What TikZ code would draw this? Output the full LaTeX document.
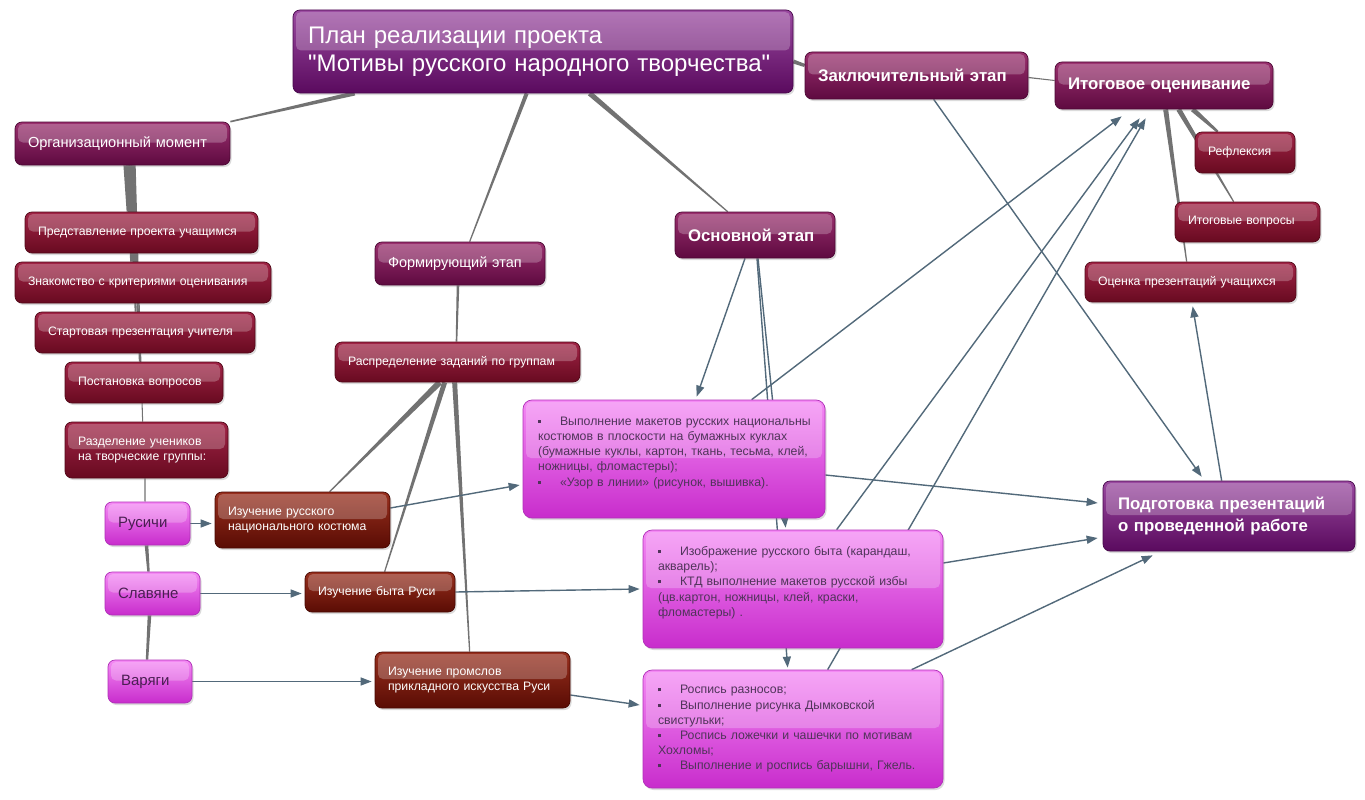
\documentclass[tikz,border=0pt]{standalone}
\usepackage{fontspec}
\setmainfont{Liberation Sans}
\newfontfamily\qfont{Liberation Sans}
\usetikzlibrary{shadows,arrows.meta,calc,backgrounds}
\definecolor{vT}{HTML}{9A4AA0}
\definecolor{vB}{HTML}{5A0A5E}
\definecolor{vD}{HTML}{48084C}
\definecolor{pT}{HTML}{9A306E}
\definecolor{pB}{HTML}{5E0A40}
\definecolor{pD}{HTML}{4C0834}
\definecolor{cT}{HTML}{A02446}
\definecolor{cB}{HTML}{680A20}
\definecolor{cD}{HTML}{520818}
\definecolor{bT}{HTML}{98301E}
\definecolor{bB}{HTML}{5A0C04}
\definecolor{bD}{HTML}{480802}
\definecolor{mT}{HTML}{F48AF4}
\definecolor{mB}{HTML}{C82CCC}
\definecolor{mD}{HTML}{B030B8}
\definecolor{mText}{HTML}{4A1E52}
\definecolor{boxText}{HTML}{50345A}
\definecolor{tapergray}{HTML}{727272}
\definecolor{arrowc}{HTML}{52697A}
\newcommand\fT{\fontsize{24}{28}\selectfont}
\newcommand\fB{\fontsize{16.8}{22}\selectfont\bfseries}
\newcommand\fM{\fontsize{14.6}{17}\selectfont}
\newcommand\fR{\fontsize{15}{17}\selectfont}
\newcommand\fF{\fontsize{14.5}{16}\selectfont}
\newcommand\fS{\fontsize{12.25}{15.5}\selectfont}
\newcommand\fX{\fontsize{12.3}{15.2}\selectfont}
\newcommand\bul{\makebox[22pt][l]{\rule[2.5pt]{3pt}{3pt}}}
\newcommand\sq{{\qfont"}}
\newcommand\taper[4]{\fill[tapergray] ($#1!#3!90:#2$) -- ($#1!#3!-90:#2$) -- ($#2!#4!90:#1$) -- ($#2!#4!-90:#1$) -- cycle;}
\begin{document}
\begin{tikzpicture}[x=1pt,y=-1pt,
 bx/.style={rounded corners=7pt, line width=0.7pt, inner xsep=13pt, inner ysep=0pt, align=left,
   drop shadow={shadow xshift=1.5pt,shadow yshift=-2pt,opacity=0.28},
   path picture={\fill[white,fill opacity=0.24,rounded corners=5pt] ([xshift=3pt,yshift=-2pt]path picture bounding box.north west) rectangle ([xshift=-3pt,yshift=1pt]path picture bounding box.east);}},
 plumv/.style={bx, top color=vT, bottom color=vB, draw=vD, text=white},
 plumr/.style={bx, top color=pT, bottom color=pB, draw=pD, text=white},
 crim/.style={bx, top color=cT, bottom color=cB, draw=cD, text=white, font=\fS},
 brwn/.style={bx, top color=bT, bottom color=bB, draw=bD, text=white, font=\fS},
 mag/.style={bx, top color=mT, bottom color=mB, draw=mD, text=mText},
 bigmag/.style={mag, rounded corners=9pt, text=boxText, font=\fX, inner xsep=15pt, minimum width=300pt, minimum height=118pt, text width=270pt},
 arr/.style={draw=arrowc, line width=1.4pt, -{Triangle[length=11pt,width=8pt]}},
]
\useasboundingbox (0,0) rectangle (1365,800);

% ---- nodes ----
\node[plumv, font=\fT, inner xsep=15pt, minimum width=500pt, minimum height=83pt, text width=470pt] (top) at (543,51.5) {\mbox{План реализации проекта}\\\mbox{\sq Мотивы русского народного творчества\sq}};
\node[plumr, font=\fB, minimum width=223pt, minimum height=47pt, text width=197pt] (zakl) at (916.5,75.5) {\mbox{Заключительный этап}};
\node[plumr, font=\fB, minimum width=218pt, minimum height=47pt, text width=192pt] (itog) at (1164,85.5) {\mbox{Итоговое оценивание}};
\node[plumr, font=\fB, minimum width=160pt, minimum height=46pt, text width=134pt] (osn) at (755,235) {\mbox{Основной этап}};
\node[plumr, font=\fM, minimum width=215pt, minimum height=43pt, text width=189pt] (org) at (122.5,143.5) {\mbox{Организационный момент}};
\node[plumr, font=\fF, minimum width=170pt, minimum height=43pt, text width=144pt] (form) at (460,263.5) {\mbox{Формирующий этап}};
\node[plumv, font=\fB, inner xsep=15pt, minimum width=252pt, minimum height=70pt, text width=222pt] (podg) at (1229,516) {\mbox{Подготовка презентаций}\\\mbox{о проведенной работе}};

\node[crim, minimum width=233pt, minimum height=41pt, text width=207pt] (pred) at (141.5,232.5) {\mbox{Представление проекта учащимся}};
\node[crim, minimum width=256pt, minimum height=41pt, text width=230pt] (znak) at (143,282.5) {\mbox{Знакомство с критериями оценивания}};
\node[crim, minimum width=220pt, minimum height=41pt, text width=194pt] (start) at (145,332.5) {\mbox{Стартовая презентация учителя}};
\node[crim, minimum width=158pt, minimum height=41pt, text width=132pt] (post) at (144,382.5) {\mbox{Постановка вопросов}};
\node[crim, minimum width=163pt, minimum height=56pt, text width=137pt] (razd) at (146.5,450) {\mbox{Разделение учеников}\\\mbox{на творческие группы:}};
\node[crim, minimum width=100pt, minimum height=41pt, text width=74pt] (refl) at (1245,152.5) {\mbox{Рефлексия}};
\node[crim, minimum width=145pt, minimum height=40pt, text width=119pt] (itvopr) at (1247.5,222) {\mbox{Итоговые вопросы}};
\node[crim, minimum width=211pt, minimum height=40pt, text width=185pt] (ocen) at (1190.5,282) {\mbox{Оценка презентаций учащихся}};
\node[crim, minimum width=245pt, minimum height=40pt, text width=219pt] (raspr) at (457.5,362) {\mbox{Распределение заданий по группам}};

\node[brwn, minimum width=175pt, minimum height=56pt, text width=149pt] (izr) at (302.5,520) {\mbox{Изучение русского}\\\mbox{национального костюма}};
\node[brwn, minimum width=150pt, minimum height=40pt, text width=124pt] (izb) at (380,592) {\mbox{Изучение быта Руси}};
\node[brwn, minimum width=195pt, minimum height=56pt, text width=169pt] (izp) at (472.5,680) {\mbox{Изучение промслов}\\\mbox{прикладного искусства Руси}};

\node[mag, font=\fR, minimum width=85pt, minimum height=43pt, text width=59pt] (rus) at (147.5,523.5) {Русичи};
\node[mag, font=\fR, minimum width=95pt, minimum height=43pt, text width=69pt] (slav) at (152.5,593.5) {Славяне};
\node[mag, font=\fR, minimum width=84pt, minimum height=43pt, text width=58pt] (var) at (150,681.5) {Варяги};

\node[bigmag, minimum width=302pt, text width=272pt] (b1) at (674,459) {%
\mbox{\bul Выполнение макетов русских национальны}\\
\mbox{костюмов в плоскости на бумажных куклах}\\
\mbox{(бумажные куклы, картон, ткань, тесьма, клей,}\\
\mbox{ножницы, фломастеры);}\\
\mbox{\bul «Узор в линии» (рисунок, вышивка).}\\
\mbox{}};
\node[bigmag] (b2) at (793,589) {%
\mbox{\bul Изображение русского быта (карандаш,}\\
\mbox{акварель);}\\
\mbox{\bul КТД выполнение макетов русской избы}\\
\mbox{(цв.картон, ножницы, клей, краски,}\\
\mbox{фломастеры) .}\\
\mbox{}};
\node[bigmag] (b3) at (793,729) {%
\mbox{\bul Роспись разносов;}\\
\mbox{\bul Выполнение рисунка Дымковской}\\
\mbox{свистульки;}\\
\mbox{\bul Роспись ложечки и чашечки по мотивам}\\
\mbox{Хохломы;}\\
\mbox{\bul Выполнение и роспись барышни, Гжель.}};

% ---- connectors ----
\begin{pgfonlayer}{background}
\fill[white] (0,0) rectangle (1365,800);
\taper{([xshift=62pt]top.south west)}{(org.north east)}{2.2pt}{0.8pt}
\taper{([xshift=234pt]top.south west)}{([xshift=95pt]form.north west)}{2pt}{0.6pt}
\taper{([xshift=297pt]top.south west)}{([xshift=53pt]osn.north west)}{2.6pt}{0.6pt}
\taper{([yshift=-10pt]top.east)}{([yshift=10pt]zakl.west)}{2pt}{1.6pt}
\taper{([yshift=-2pt]zakl.east)}{([yshift=5pt]itog.west)}{0.6pt}{0.5pt}
\taper{([xshift=-2pt]form.south)}{([xshift=-1pt]raspr.north)}{1.3pt}{0.8pt}
\taper{([xshift=105pt]raspr.south west)}{([xshift=115pt]izr.north west)}{3pt}{0.6pt}
\taper{([xshift=110pt]raspr.south west)}{([xshift=80pt]izb.north west)}{2.5pt}{0.6pt}
\taper{([xshift=120pt]raspr.south west)}{([xshift=95pt]izp.north west)}{2.5pt}{0.6pt}
\taper{([xshift=112pt]org.south west)}{([xshift=104pt]pred.north west)}{3.2pt}{2pt}
\taper{([xshift=114pt]org.south west)}{([xshift=117pt]znak.north west)}{2.6pt}{1.5pt}
\taper{([xshift=116pt]org.south west)}{([xshift=101pt]start.north west)}{2pt}{1pt}
\taper{([xshift=118pt]org.south west)}{([xshift=75pt]post.north west)}{1.5pt}{0.8pt}
\taper{([xshift=120pt]org.south west)}{([xshift=78pt]razd.north west)}{1pt}{0.5pt}
\taper{([xshift=-1.5pt]razd.south)}{([xshift=-2.5pt]rus.north)}{0.6pt}{0.5pt}
\taper{([xshift=-1pt]rus.south)}{([xshift=-4pt]slav.north)}{1.8pt}{1.2pt}
\taper{([xshift=-3pt]slav.south)}{([xshift=-3pt]var.north)}{1.8pt}{1.2pt}
\taper{([xshift=138pt]itog.south west)}{([xshift=23pt]refl.north west)}{2.5pt}{1.2pt}
\taper{([xshift=124pt]itog.south west)}{([xshift=59pt]itvopr.north west)}{2.5pt}{0.6pt}
\taper{([xshift=111pt]itog.south west)}{([xshift=102pt]ocen.north west)}{2.5pt}{0.6pt}

\draw[arr] ([xshift=-10pt]osn.south) -- ([xshift=174pt,yshift=3pt]b1.north west);
\draw[arr] ([xshift=3pt]osn.south) -- ([xshift=143pt,yshift=2pt]b2.north west);
\draw[arr] ([xshift=2pt]osn.south) -- ([xshift=145pt,yshift=2pt]b3.north west);
\draw[arr] ([xshift=129pt]zakl.south west) -- ([xshift=99pt,yshift=4pt]podg.north west);
\draw[arr] ([xshift=229pt]b1.north west) -- ([xshift=67pt,yshift=-7pt]itog.south west);
\draw[arr] ([xshift=194pt]b2.north west) -- ([xshift=85pt,yshift=-9pt]itog.south west);
\draw[arr] ([xshift=185pt]b3.north west) -- ([xshift=91pt,yshift=-9pt]itog.south west);
\draw[arr] ([yshift=-16pt]b1.east) -- ([yshift=13pt,xshift=-5pt]podg.west);
\draw[arr] ([yshift=26pt]b2.east) -- ([yshift=-22pt,xshift=-5pt]podg.west);
\draw[arr] ([xshift=269pt]b3.north west) -- ([xshift=50pt,yshift=-4pt]podg.south west);
\draw[arr] ([xshift=119pt]podg.north west) -- ([xshift=108pt,yshift=-4pt]ocen.south west);
\draw[arr, shorten >=3pt] (rus.east) -- (rus.east -| izr.west);
\draw[arr, shorten >=3pt] (slav.east) -- (slav.east -| izb.west);
\draw[arr, shorten >=3pt] (var.east) -- (var.east -| izp.west);
\draw[arr] ([yshift=12pt]izr.east) -- ([yshift=-26pt,xshift=-3pt]b1.west);
\draw[arr] (izb.east) -- ([xshift=-3pt]b2.west);
\draw[arr] ([yshift=-15pt]izp.east) -- ([yshift=24pt,xshift=-3pt]b3.west);
\end{pgfonlayer}
\end{tikzpicture}
\end{document}
